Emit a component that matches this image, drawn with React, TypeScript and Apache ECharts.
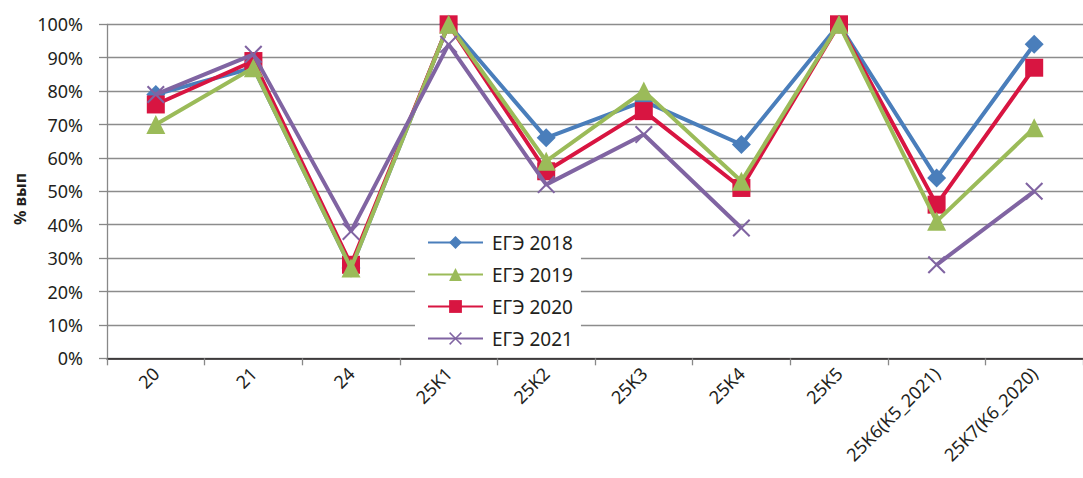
import React, { useEffect, useRef } from "react";
import * as echarts from "echarts";

const categories = ["20", "21", "24", "25K1", "25K2", "25K3", "25K4", "25K5", "25K6(K5_2021)", "25K7(K6_2020)"];
const ege2018 = [79, 87, 27, 100, 66, 77, 64, 100, 54, 94];
const ege2019 = [70, 87, 27, 100, 59, 80, 53, 100, 41, 69];
const ege2020 = [76, 89, 28, 100, 56, 74, 51, 100, 46, 87];
const ege2021: (number | null)[] = [79, 91, 38, 94, 52, 67, 39, null, 28, 50];
const seriesNames = ["ЕГЭ 2018", "ЕГЭ 2019", "ЕГЭ 2020", "ЕГЭ 2021"];
const yTicks = [0, 10, 20, 30, 40, 50, 60, 70, 80, 90, 100];

const FONT = "Noto Sans";
const XPATH =
  "path://M0,1.3 L1.3,0 L8,6.7 L14.7,0 L16,1.3 L9.3,8 L16,14.7 L14.7,16 L8,9.3 L1.3,16 L0,14.7 L6.7,8 Z";

export default function App() {
  const ref = useRef<HTMLDivElement>(null);
  useEffect(() => {
    if (!ref.current) return;
    const chart = echarts.init(ref.current, null, { renderer: "svg" });
    const mk = (name: string, data: any[], color: string, symbol: string, size: number, z: number) => ({
      name,
      type: "line",
      data,
      z,
      connectNulls: false,
      symbol,
      symbolSize: size,
      lineStyle: { color, width: 4 },
      itemStyle: { color, borderWidth: 0 },
      emphasis: { disabled: true },
    });
    chart.setOption({
      animation: false,
      backgroundColor: "#ffffff",
      textStyle: { fontFamily: FONT },
      grid: { left: 107, right: -10, top: 24.3, bottom: 119.7, containLabel: false },
      legend: {
        orient: "vertical",
        left: 415,
        top: 226,
        padding: [7, 8, 6, 12],
        backgroundColor: "#ffffff",
        itemWidth: 55,
        itemHeight: 16,
        itemGap: 13,
        z: 10,
        data: seriesNames,
        textStyle: { fontFamily: FONT, fontSize: 19, color: "#231f20", padding: [0, 0, 0, 4] },
      },
      xAxis: {
        type: "category",
        data: categories,
        boundaryGap: true,
        axisLine: { lineStyle: { color: "#231f20", width: 1.5 } },
        axisTick: { show: true, length: 7, lineStyle: { color: "#888888", width: 1.3 } },
        axisLabel: { rotate: 45, margin: 12, fontFamily: FONT, fontSize: 18, color: "#231f20" },
      },
      yAxis: {
        type: "value",
        min: 0,
        max: 100,
        interval: 10,
        axisLine: { show: true, lineStyle: { color: "#888888", width: 1.3 } },
        axisTick: { show: true, length: 8, lineStyle: { color: "#888888", width: 1.3 } },
        axisLabel: {
          margin: 24,
          fontFamily: FONT,
          fontSize: 18,
          color: "#231f20",
          formatter: (v: number) => (yTicks.includes(v) ? v + "%" : ""),
        },
        splitLine: { show: true, lineStyle: { color: "#8c8c8c", width: 1.3 } },
      },
      graphic: [
        {
          type: "text",
          x: 20,
          y: 199,
          rotation: Math.PI / 2,
          style: {
            text: "% вып",
            align: "center",
            verticalAlign: "middle",
            fontFamily: FONT,
            fontWeight: "bold",
            fontSize: 16,
            fill: "#231f20",
          },
        },
      ],
      series: [
        mk(seriesNames[0], ege2018, "#4a7ebb", "diamond", 19, 2),
        mk(seriesNames[2], ege2020, "#d81541", "rect", 18, 3),
        mk(seriesNames[1], ege2019, "#9bbb59", "triangle", 19, 4),
        mk(seriesNames[3], ege2021, "#8064a2", XPATH, 18, 5),
      ],
    });
    return () => chart.dispose();
  }, []);
  return (
    <div
      ref={ref}
      style={{ position: "fixed", left: 0, top: 0, width: 1083, height: 478, background: "#fff" }}
    />
  );
}
